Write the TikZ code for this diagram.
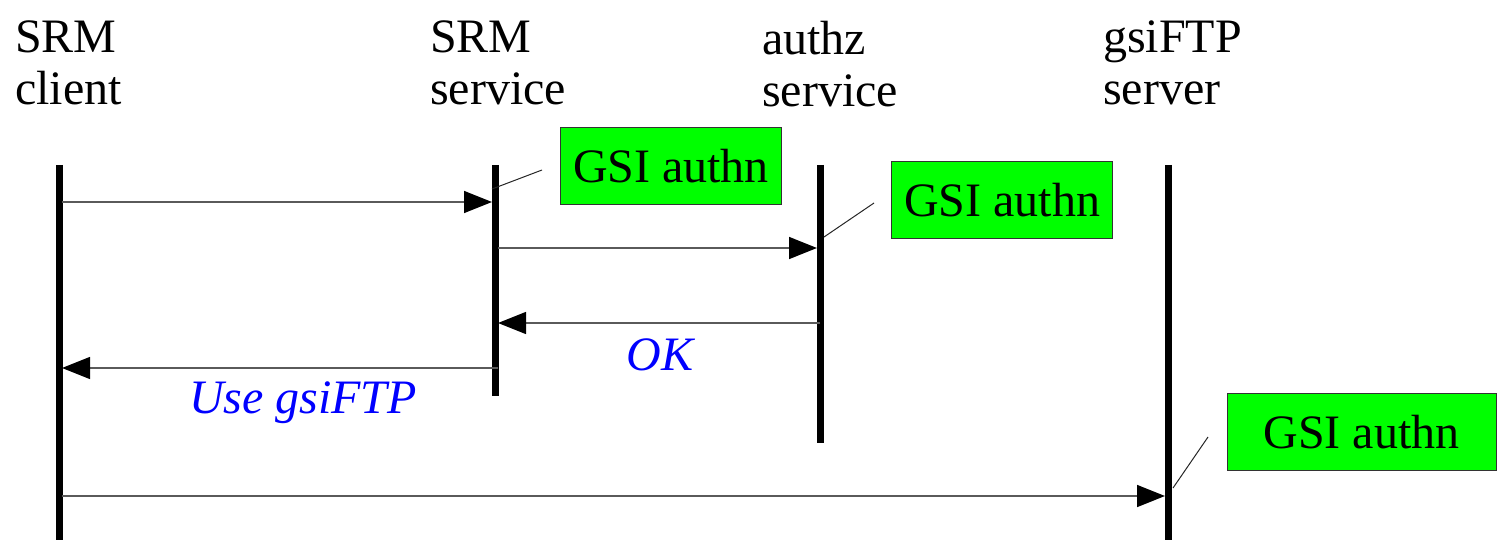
\documentclass[tikz,border=0pt]{standalone}
\usepackage{fontspec}
\setmainfont{Liberation Serif}
\usetikzlibrary{arrows.meta}
\definecolor{boxgreen}{RGB}{0,255,0}
\definecolor{msgblue}{RGB}{0,0,255}
\definecolor{msggray}{RGB}{90,90,90}
\tikzset{
  lifeline/.style={line width=7pt, line cap=butt},
  msg/.style={draw=msggray, line width=1.5pt, -{Triangle[length=28pt,width=22pt,fill=black,color=black]}},
  header/.style={anchor=north west, inner sep=0pt, align=left, font=\fontsize{48}{52}\selectfont},
  authbox/.style={draw=black!80, line width=1pt, fill=boxgreen, minimum width=221pt, minimum height=77pt, inner sep=0pt, font=\fontsize{48}{52}\selectfont},
  reply/.style={text=msgblue, inner sep=0pt, font=\fontsize{48}{52}\selectfont\itshape},
  callout/.style={draw=black!85, line width=1pt}
}
\begin{document}
\begin{tikzpicture}[x=1pt,y=-1pt]
\useasboundingbox (0,0) rectangle (1499,548);

% participants
\node[header] (hc) at (15,21) {SRM\\client};
\node[header] (hs) at (430,21) {SRM\\service};
\node[header] (ha) at (762,21) {authz\\service};
\node[header] (hg) at (1103,21) {gsiFTP\\server};

% lifelines
\coordinate (cTop) at (59,165);   \coordinate (cBot) at (59,540);
\coordinate (sTop) at (495,165);  \coordinate (sBot) at (495,396);
\coordinate (aTop) at (820,165);  \coordinate (aBot) at (820,443);
\coordinate (gTop) at (1168,165); \coordinate (gBot) at (1168,540);
\draw[lifeline] (cTop) -- (cBot);
\draw[lifeline] (sTop) -- (sBot);
\draw[lifeline] (aTop) -- (aBot);
\draw[lifeline] (gTop) -- (gBot);

% message end points
\coordinate (m1a) at (62,202);   \coordinate (m1b) at (492,202);
\coordinate (m2a) at (498,248);  \coordinate (m2b) at (817,248);
\coordinate (m3a) at (820,323);  \coordinate (m3b) at (498,323);
\coordinate (m4a) at (498,368);  \coordinate (m4b) at (62,368);
\coordinate (m5a) at (62,496);   \coordinate (m5b) at (1165,496);

\draw[msg] (m1a) -- (m1b);
\draw[msg] (m2a) -- (m2b);
\draw[msg] (m3a) -- (m3b);
\draw[msg] (m4a) -- (m4b);
\draw[msg] (m5a) -- (m5b);

% reply labels
\node[reply] (ok) at (660,355) {OK};
\node[reply] (use) at (303,403) {Use gsiFTP};

% authentication notes
\node[authbox] (g1) at (671,166) {GSI authn};
\node[authbox] (g2) at (1002,200) {GSI authn};
\node[authbox, minimum width=269pt] (g3) at (1361.5,432) {GSI authn};

\coordinate (k1a) at (492,189); \coordinate (k1b) at (542,170);
\coordinate (k2a) at (824,237); \coordinate (k2b) at (874,203);
\coordinate (k3a) at (1173,488); \coordinate (k3b) at (1208,437);
\draw[callout] (k1a) -- (k1b);
\draw[callout] (k2a) -- (k2b);
\draw[callout] (k3a) -- (k3b);
\end{tikzpicture}
\end{document}
